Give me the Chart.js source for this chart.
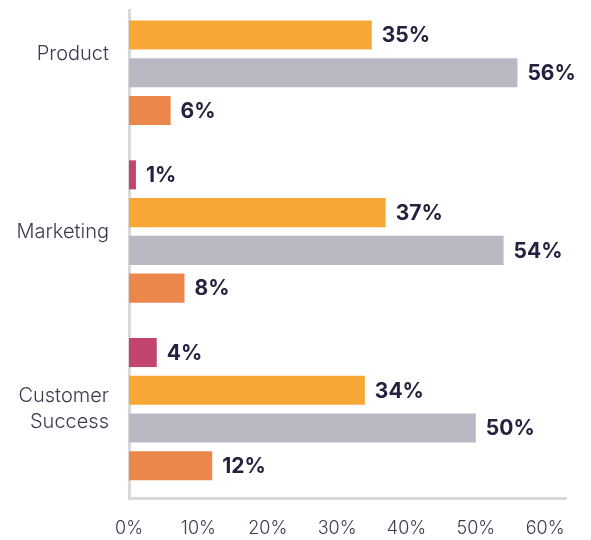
<!DOCTYPE html>
<html>
<head>
<meta charset="utf-8">
<script src="https://cdn.jsdelivr.net/npm/chart.js@4"></script>
<style>
  html, body { margin: 0; padding: 0; background: #fff; }
  #frame { position: absolute; left: 0; top: 9px; width: 591px; height: 531px; overflow: hidden; }
  #box { position: absolute; left: 0; top: -70px; width: 591px; height: 601px; }
</style>
</head>
<body>
<div id="frame"><div id="box"><canvas id="teamChart"></canvas></div></div>
<script>
const categories = ["Product", "Marketing", ["Customer", "Success"]];
const pinkValues = [null, 1, 4];
const yellowValues = [35, 37, 34];
const greyValues = [56, 54, 50];
const orangeValues = [6, 8, 12];
const xTicks = [0, 10, 20, 30, 40, 50, 60];

// prints the value just right of each bar
const barLabels = {
  id: "barLabels",
  afterDatasetsDraw(chart) {
    const ctx = chart.ctx;
    ctx.save();
    ctx.font = "700 21px Inter";
    ctx.fillStyle = "#24223e";
    ctx.textBaseline = "middle";
    chart.data.datasets.forEach((ds, i) => {
      chart.getDatasetMeta(i).data.forEach((bar, j) => {
        const v = ds.data[j];
        if (v == null) return;
        ctx.fillText(v + "%", bar.x + 10, bar.y + 1);
      });
    });
    ctx.restore();
  },
};

function makeChart() {
  const canvas = document.getElementById("teamChart");
  new Chart(canvas, {
    type: "bar",
    data: {
      labels: categories,
      datasets: [
        { label: "None", data: pinkValues, backgroundColor: "#c3446f" },
        { label: "Some", data: yellowValues, backgroundColor: "#f6a735" },
        { label: "Most", data: greyValues, backgroundColor: "#b9b9c3" },
        { label: "All", data: orangeValues, backgroundColor: "#ec874c" },
      ],
    },
    options: {
      indexAxis: "y",
      responsive: true,
      maintainAspectRatio: false,
      animation: false,
      categoryPercentage: 0.85,
      barPercentage: 0.77,
      layout: {
        padding: { top: 0, left: 10, right: 25, bottom: 0 },
      },
      scales: {
        x: {
          min: 0,
          max: 63,
          afterBuildTicks: (scale) => {
            scale.ticks = xTicks.map((v) => ({ value: v }));
          },
          afterFit: (scale) => {
            scale.height = 42;
          },
          grid: { display: false, drawTicks: false },
          border: { color: "#d9d9d9", width: 3 },
          ticks: {
            padding: 20,
            color: "#3b3b4f",
            font: { family: "Inter", size: 18, weight: "300" },
            callback: (v) => v + "%",
          },
        },
        y: {
          afterFit: (scale) => {
            scale.width = 119;
          },
          grid: { display: false, drawTicks: true, tickLength: 20 },
          border: { color: "#d9d9d9", width: 3 },
          ticks: {
            padding: 0,
            color: "#3b3b4f",
            font: { family: "Inter", size: 20, weight: "300", lineHeight: 1.3 },
          },
        },
      },
      plugins: {
        legend: { display: false },
        tooltip: { enabled: false },
      },
    },
    plugins: [barLabels],
  });
}

document.addEventListener("DOMContentLoaded", makeChart);
</script>
</body>
</html>
